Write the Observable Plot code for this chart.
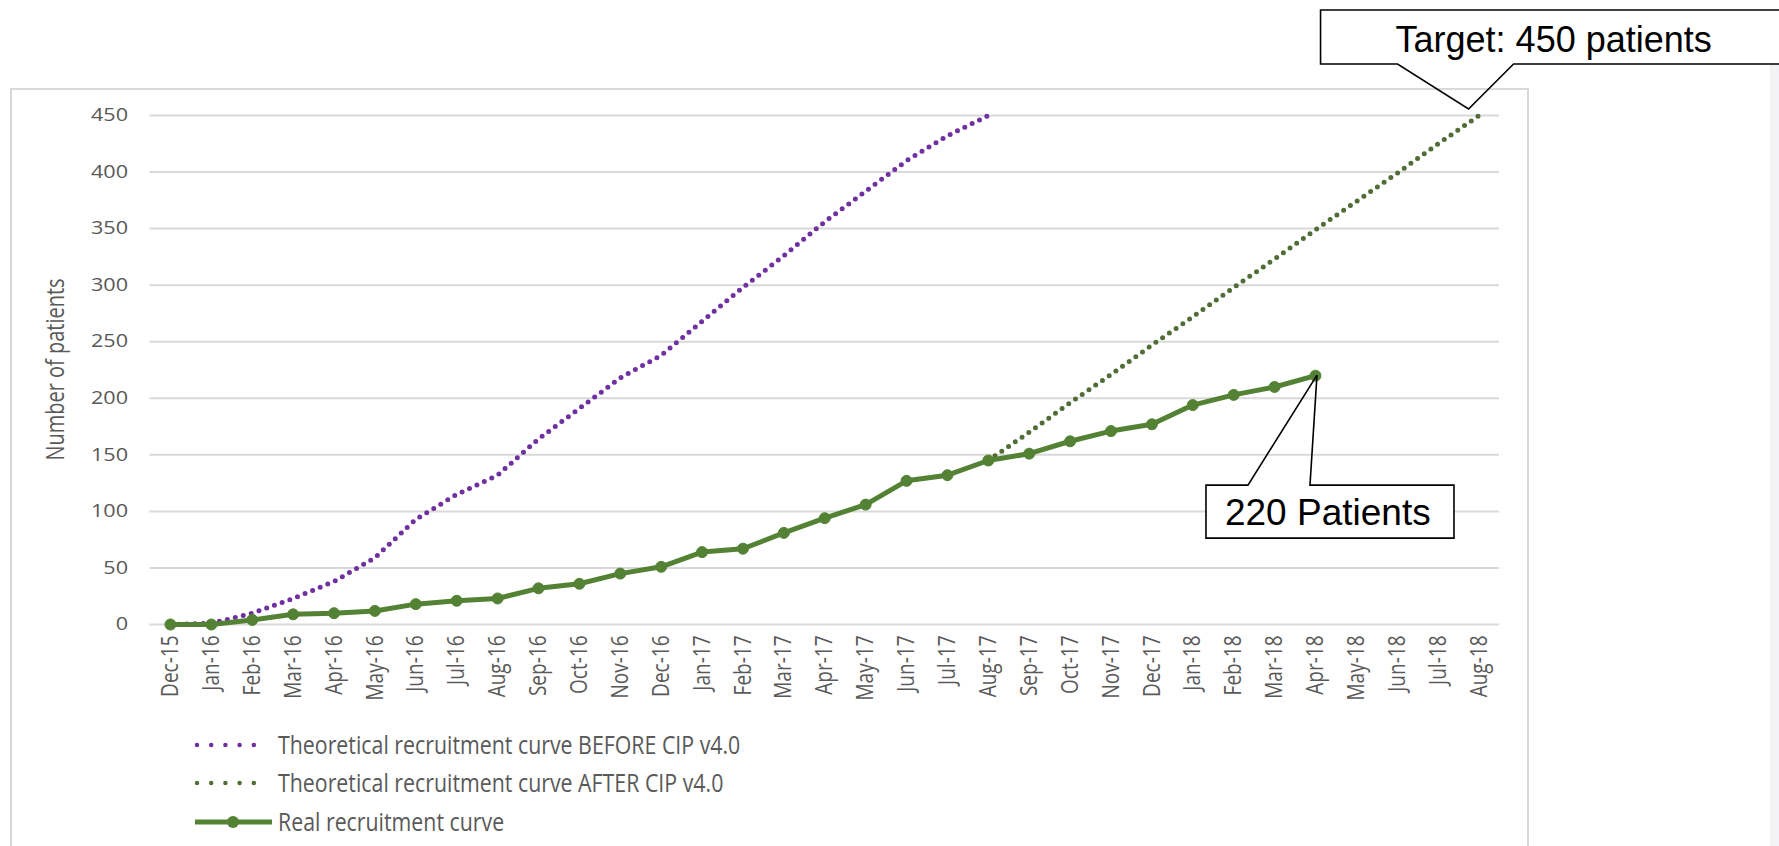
<!DOCTYPE html>
<html>
<head>
<meta charset="utf-8">
<script src="https://cdn.jsdelivr.net/npm/d3@7"></script>
<script src="https://cdn.jsdelivr.net/npm/@observablehq/plot@0.6"></script>
<style>
  html, body { margin: 0; padding: 0; background: #ffffff; }
  #chart svg { display: block; }
</style>
</head>
<body>
<div id="chart"></div>
<script>
// Monthly categories on the x axis
const months = [
  "Dec-15","Jan-16","Feb-16","Mar-16","Apr-16","May-16","Jun-16","Jul-16","Aug-16",
  "Sep-16","Oct-16","Nov-16","Dec-16","Jan-17","Feb-17","Mar-17","Apr-17","May-17",
  "Jun-17","Jul-17","Aug-17","Sep-17","Oct-17","Nov-17","Dec-17","Jan-18","Feb-18",
  "Mar-18","Apr-18","May-18","Jun-18","Jul-18","Aug-18"
];

// Cumulative patients actually recruited (Dec-15 .. Apr-18)
const realValues = [0,0,4,9,10,12,18,21,23,32,36,45,51,64,67,81,94,106,127,132,145,151,162,171,177,194,203,210,220];

// Planned curve before protocol v4.0 (Dec-15 .. Aug-17)
const beforeValues = [0,1,10,23,38,59,93,115,132,164,191,218,238,268,298,326,356,383,410,432,450];

// Planned curve after protocol v4.0 (Aug-17 .. Aug-18)
const afterStart = "Aug-17";
const afterValues = [145,170,196,221,247,272,298,323,349,374,399,425,450];

const yTicks = [0,50,100,150,200,250,300,350,400,450];
const targetValue = 450;
const targetMonth = "Aug-18";

const legendLabels = [
  "Theoretical recruitment curve BEFORE CIP v4.0",
  "Theoretical recruitment curve AFTER CIP v4.0",
  "Real recruitment curve"
];

const purple = "#7030a0";
const greenDotted = "#4f6d35";
const green = "#548235";
const textGray = "#595959";

const real = realValues.map((value, i) => ({month: months[i], value}));
const before = beforeValues.map((value, i) => ({month: months[i], value}));
const i0 = months.indexOf(afterStart);
const after = afterValues.map((value, i) => ({month: months[i0 + i], value}));

const chart = Plot.plot({
  width: 1779,
  height: 846,
  marginLeft: 149.5,
  marginRight: 280,
  marginTop: 115,
  marginBottom: 222,
  style: {fontFamily: "'Open Sans', sans-serif", color: textGray, background: "transparent"},
  x: {type: "point", domain: months, padding: 0.5, round: false, label: null},
  y: {domain: [0, 450], label: null},
  marks: [
    Plot.gridY(yTicks, {stroke: "#d9d9d9", strokeOpacity: 1, strokeWidth: 2}),
    Plot.axisY(yTicks, {tickSize: 0, tickPadding: 22, fontSize: 18, label: null}),
    Plot.axisX({tickSize: 0, tickPadding: 11, tickRotate: -90, fontSize: 19, label: null}),
    Plot.line(before, {x: "month", y: "value", stroke: purple, strokeWidth: 5,
      strokeDasharray: "0 8.2", strokeLinecap: "round"}),
    Plot.line(after, {x: "month", y: "value", stroke: greenDotted, strokeWidth: 5,
      strokeDasharray: "0 8.2", strokeLinecap: "round"}),
    Plot.line(real, {x: "month", y: "value", stroke: green, strokeWidth: 5}),
    Plot.dot(real, {x: "month", y: "value", r: 5.5, fill: green, stroke: green, strokeWidth: 1})
  ]
});

document.getElementById("chart").appendChild(chart);

const svg = d3.select(chart);
const xs = chart.scale("x");
const ys = chart.scale("y");

// the tick labels are drawn a little wider than the font's natural shape
svg.selectAll("g[aria-label='y-axis tick label'] text").each(function () {
  const t = this.getAttribute("transform") || "";
  this.setAttribute("transform", `${t} scale(1.2,1)`);
});
svg.selectAll("g[aria-label='x-axis tick label'] text").each(function () {
  const t = this.getAttribute("transform") || "";
  this.setAttribute("transform", `${t} scale(1,1.25)`);
});

// chart area frame behind everything
svg.insert("rect", ":first-child")
  .attr("x", 11).attr("y", 89).attr("width", 1517).attr("height", 770)
  .attr("fill", "none").attr("stroke", "#d9d9d9").attr("stroke-width", 2);
svg.insert("rect", ":first-child")
  .attr("x", 1770).attr("y", 64).attr("width", 9).attr("height", 782)
  .attr("fill", "#f3f3f5");
svg.insert("rect", ":first-child")
  .attr("x", 0).attr("y", 0).attr("width", 1779).attr("height", 846)
  .attr("fill", "#ffffff");

// y axis title
svg.append("text")
  .attr("transform", `translate(64,${(ys.apply(0) + ys.apply(450)) / 2}) rotate(-90) scale(1,1.25)`)
  .attr("text-anchor", "middle")
  .attr("font-family", "'Open Sans', sans-serif")
  .attr("font-size", 20)
  .attr("fill", textGray)
  .text("Number of patients");

// legend
const legend = svg.append("g")
  .attr("font-family", "'Open Sans', sans-serif")
  .attr("font-size", 22)
  .attr("text-anchor", "start")
  .attr("fill", textGray);
const legendRows = [745, 783, 822];
const legendStyles = [
  {stroke: purple, dotted: true},
  {stroke: greenDotted, dotted: true},
  {stroke: green, dotted: false}
];
legendLabels.forEach((label, i) => {
  const y = legendRows[i];
  const s = legendStyles[i];
  if (s.dotted) {
    legend.append("line")
      .attr("x1", 197).attr("x2", 268).attr("y1", y).attr("y2", y)
      .attr("stroke", s.stroke).attr("stroke-width", 4.5)
      .attr("stroke-linecap", "round").attr("stroke-dasharray", "0 14.2");
  } else {
    legend.append("line")
      .attr("x1", 195).attr("x2", 272).attr("y1", y).attr("y2", y)
      .attr("stroke", s.stroke).attr("stroke-width", 5);
    legend.append("circle")
      .attr("cx", 233).attr("cy", y).attr("r", 6).attr("fill", s.stroke);
  }
  legend.append("text")
    .attr("transform", `translate(278,${y}) scale(0.97,1.15)`)
    .attr("dy", "0.36em")
    .text(label);
});

// callout: target
{
  const tx = xs.apply(targetMonth) - 10;
  const ty = ys.apply(targetValue) - 6;
  const bottom = ty - 45, top = bottom - 54, left = tx - 148, right = tx + 340;
  const g = svg.append("g");
  g.append("rect").attr("x", left).attr("y", top).attr("width", right - left).attr("height", bottom - top)
    .attr("fill", "#ffffff");
  g.append("path")
    .attr("d", `M${tx - 71},${bottom} L${left},${bottom} L${left},${top} L${right},${top} L${right},${bottom} L${tx + 45},${bottom} L${tx},${ty} Z`)
    .attr("fill", "none").attr("stroke", "#000").attr("stroke-width", 1.6).attr("stroke-linejoin", "miter");
  g.append("text")
    .attr("x", left + 75).attr("y", bottom - 12)
    .attr("text-anchor", "start")
    .attr("font-family", "'Liberation Sans', Arial, sans-serif")
    .attr("font-size", 36).attr("fill", "#000")
    .text(`Target: ${targetValue} patients`);
}

// callout: latest recruitment
{
  const last = real[real.length - 1];
  const tx = xs.apply(last.month) + 2;
  const ty = ys.apply(last.value);
  const top = ty + 110, bottom = top + 53, left = tx - 111, right = tx + 137;
  const g = svg.append("g");
  g.append("rect").attr("x", left).attr("y", top).attr("width", right - left).attr("height", bottom - top)
    .attr("fill", "#ffffff");
  g.append("path")
    .attr("d", `M${tx - 69},${top} L${left},${top} L${left},${bottom} L${right},${bottom} L${right},${top} L${tx - 7},${top} L${tx},${ty} Z`)
    .attr("fill", "none").attr("stroke", "#000").attr("stroke-width", 1.6);
  g.append("text")
    .attr("x", left + 19).attr("y", bottom - 13)
    .attr("text-anchor", "start")
    .attr("font-family", "'Liberation Sans', Arial, sans-serif")
    .attr("font-size", 37).attr("fill", "#000")
    .text(`${last.value} Patients`);
}
</script>
</body>
</html>
